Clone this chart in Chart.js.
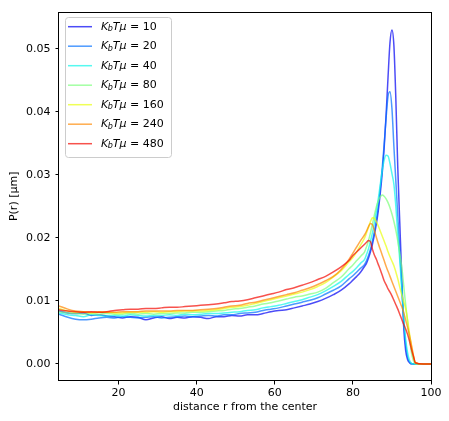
<!DOCTYPE html>
<html>
<head>
<meta charset="utf-8">
<script src="https://cdn.jsdelivr.net/npm/chart.js@4.4.0/dist/chart.umd.min.js"></script>
<style>
html, body { margin: 0; padding: 0; background: #fff; }
</style>
</head>
<body>
<canvas id="myChart" width="449" height="421"></canvas>
<script>
// distance from the center (shared by every curve)
const distance = [4.75,7,9,11,13,15,17,19,21,23,25,27,29,31,33,35,37,39,41,43,45,47,49,51,53,55,57,59,61,63,65,67,69,71,73,75,77,79,
	80,81,82,
	83,83.5,84,84.5,85,85.5,86,86.5,87,87.5,88,88.5,89,89.5,90,90.5,91,91.5,92,92.5,93,93.5,94,94.5,95,95.5,96,
	98,100];

const kbtValues = [10, 20, 40, 80, 160, 240, 480];

const p10 = [.0084,.0081,.0080,.0081,.0077,.0078,.0076,.0075,.0073,.0075,.0074,.0070,.0073,.0075,.0072,.0074,.0073,.0075,.0074,.0072,.0075,.0075,.0077,.0076,.0078,.0078,.0080,.0083,.0085,.0086,.0089,.0092,.0095,.0099,.0104,.0110,.0117,.0127,
	.0133,.0139,.0146,
	.0155,.0160,.0168,.0178,.0190,.0205,.0222,.0243,.0270,.0302,.0342,.0395,.0455,.0510,.0530,.0505,.0420,.0310,.0225,.0140,.0060,.0022,.0007,.0002,0,0,0,
	0,0];
const p20 = [.0079,.0074,.0071,.0070,.0071,.0073,.0074,.0073,.0075,.0074,.0073,.0074,.0075,.0073,.0074,.0075,.0076,.0075,.0076,.0077,.0076,.0078,.0078,.0080,.0081,.0082,.0085,.0087,.0089,.0092,.0095,.0098,.0101,.0105,.0111,.0117,.0124,.0135,
	.0140,.0146,.0152,
	.0158,.0164,.0172,.0182,.0195,.0210,.0228,.0250,.0278,.0310,.0348,.0390,.0425,.0432,.0405,.0345,.0290,.0235,.0180,.0125,.0072,.0032,.0011,.0003,.0001,0,0,
	0,0];
const p40 = [.0081,.0078,.0077,.0075,.0078,.0077,.0076,.0077,.0076,.0078,.0077,.0076,.0077,.0077,.0078,.0077,.0079,.0078,.0079,.0080,.0080,.0081,.0082,.0083,.0085,.0086,.0089,.0091,.0093,.0096,.0099,.0102,.0106,.0110,.0116,.0123,.0131,.0142,
	.0147,.0153,.0160,
	.0166,.0174,.0183,.0195,.0208,.0224,.0242,.0262,.0284,.0306,.0323,.0331,.0330,.0318,.0302,.0285,.0250,.0205,.0165,.0120,.0075,.0040,.0018,.0006,.0001,0,0,
	0,0];
const p80 = [.0083,.0081,.0080,.0079,.0080,.0079,.0080,.0079,.0079,.0080,.0079,.0080,.0079,.0080,.0080,.0081,.0081,.0082,.0082,.0083,.0084,.0085,.0087,.0088,.0090,.0092,.0095,.0097,.0100,.0103,.0106,.0108,.0111,.0114,.0120,.0129,.0138,.0151,
	.0157,.0164,.0171,
	.0178,.0186,.0196,.0208,.0222,.0236,.0249,.0259,.0265,.0268,.0266,.0262,.0256,.0248,.0238,.0226,.0212,.0195,.0175,.0155,.0125,.0095,.0068,.0040,.0018,.0005,0,
	0,0];
const p160 = [.0088,.0084,.0082,.0083,.0081,.0082,.0082,.0081,.0081,.0082,.0082,.0082,.0083,.0082,.0083,.0083,.0084,.0084,.0084,.0085,.0086,.0088,.0090,.0091,.0093,.0096,.0099,.0102,.0105,.0108,.0111,.0114,.0118,.0123,.0129,.0138,.0148,.0162,
	.0169,.0178,.0189,
	.0200,.0208,.0217,.0226,.0232,.0231,.0226,.0219,.0211,.0203,.0195,.0187,.0178,.0170,.0163,.0156,.0146,.0135,.0122,.0110,.0099,.0088,.0070,.0048,.0028,.0012,.0002,
	0,0];
const p240 = [.0092,.0087,.0084,.0083,.0082,.0083,.0082,.0082,.0083,.0083,.0083,.0084,.0084,.0084,.0084,.0085,.0085,.0085,.0086,.0087,.0088,.0090,.0092,.0093,.0096,.0098,.0101,.0104,.0107,.0110,.0113,.0117,.0121,.0126,.0132,.0139,.0150,.0166,
	.0176,.0186,.0196,
	.0205,.0211,.0218,.0223,.0221,.0212,.0201,.0191,.0182,.0173,.0164,.0155,.0147,.0139,.0131,.0123,.0115,.0107,.0099,.0091,.0082,.0070,.0058,.0045,.0030,.0014,.0002,
	0,0];
const p480 = [.0086,.0084,.0083,.0082,.0083,.0082,.0083,.0085,.0086,.0087,.0087,.0088,.0088,.0089,.0090,.0090,.0091,.0092,.0093,.0094,.0095,.0097,.0099,.0100,.0102,.0105,.0108,.0111,.0114,.0118,.0121,.0125,.0129,.0134,.0139,.0146,.0154,.0164,
	.0172,.0178,.0184,
	.0190,.0193,.0196,.0194,.0182,.0173,.0166,.0158,.0150,.0141,.0132,.0126,.0119,.0114,.0108,.0101,.0094,.0087,.0079,.0071,.0063,.0056,.0047,.0036,.0023,.0012,.0002,
	0,0];

const curves = [p10, p20, p40, p80, p160, p240, p480];
const lineColors = ['rgba(0,0,243,0.7)', 'rgba(0,110,255,0.7)', 'rgba(14,247,233,0.7)', 'rgba(123,255,123,0.7)',
	'rgba(233,255,14,0.7)', 'rgba(255,135,0,0.7)', 'rgba(243,9,0,0.7)'];

const xTicks = [20, 40, 60, 80, 100];
const yTicks = [0, 0.01, 0.02, 0.03, 0.04, 0.05];

const FONT = 'DejaVu Sans';
const FS = 11;

// matplotlib style box: top/right spines and the legend with K_bTμ
const framePlugin = {
	id: 'frame',
	afterDraw(chart) {
		const ctx = chart.ctx, a = chart.chartArea;
		ctx.save();
		ctx.strokeStyle = '#000';
		ctx.lineWidth = 1;
		ctx.strokeRect(Math.round(a.left) - 0.5, Math.round(a.top) + 0.5, Math.round(a.right - a.left) + 1, Math.round(a.bottom - a.top) - 1);

		// legend
		const lx = 65.5, ly = 17.5, lw = 106, lh = 140;
		ctx.beginPath();
		ctx.roundRect(lx, ly, lw, lh, 3);
		ctx.fillStyle = 'rgba(255,255,255,0.8)';
		ctx.fill();
		ctx.strokeStyle = '#cccccc';
		ctx.stroke();
		chart.data.datasets.forEach((ds, i) => {
			const y = 26.7 + i * 19.5;
			ctx.beginPath();
			ctx.moveTo(68, y);
			ctx.lineTo(92, y);
			ctx.strokeStyle = ds.borderColor;
			ctx.lineWidth = 1.5;
			ctx.stroke();
			ctx.fillStyle = '#000';
			ctx.textBaseline = 'middle';
			let x = 101;
			ctx.font = 'italic ' + FS + 'px "' + FONT + '"';
			ctx.fillText('K', x, y);
			x += ctx.measureText('K').width - 0.5;
			ctx.font = 'italic 8px "' + FONT + '"';
			ctx.fillText('b', x, y + 2.5);
			x += ctx.measureText('b').width;
			ctx.font = 'italic ' + FS + 'px "' + FONT + '"';
			ctx.fillText('Tμ', x, y);
			x += ctx.measureText('Tμ').width;
			ctx.font = FS + 'px "' + FONT + '"';
			ctx.fillText(' = ' + kbtValues[i], x, y);
		});
		ctx.restore();
	}
};

const datasets = curves.map((vals, i) => ({
	label: 'KbTμ = ' + kbtValues[i],
	data: distance.map((d, j) => ({x: d, y: vals[j]})),
	borderColor: lineColors[i],
	borderWidth: 1.5,
	pointRadius: 0,
	fill: false,
	cubicInterpolationMode: 'monotone',
	order: curves.length - i,
}));

const canvas = document.getElementById('myChart').getContext('2d');
let myChart = new Chart(canvas, {
	type: 'line',
	data: {datasets: datasets},
	options: {
		responsive: false,
		animation: false,
		devicePixelRatio: 1,
		layout: {padding: {left: 0, right: 18, top: 11, bottom: 0}},
		plugins: {
			legend: {display: false},
			tooltip: {enabled: false},
		},
		scales: {
			x: {
				type: 'linear',
				min: 4.75,
				max: 100,
				afterBuildTicks: (axis) => { axis.ticks = xTicks.map(v => ({value: v})); },
				afterFit: (axis) => { axis.height = 40; },
				grid: {display: true, drawOnChartArea: false, drawTicks: true, tickLength: 3.5, color: '#000'},
				border: {display: false},
				ticks: {
					color: '#000',
					padding: 2,
					maxRotation: 0,
					font: {family: FONT, size: FS},
					callback: (v) => String(v),
				},
				title: {
					display: true,
					text: 'distance r from the center',
					color: '#000',
					font: {family: FONT, size: FS},
					padding: {top: 0, bottom: 7},
				},
			},
			y: {
				min: -0.0027,
				max: 0.0559,
				afterBuildTicks: (axis) => { axis.ticks = yTicks.map(v => ({value: v})); },
				afterFit: (axis) => { axis.width = 59; },
				grid: {display: true, drawOnChartArea: false, drawTicks: true, tickLength: 3.5, color: '#000'},
				border: {display: false},
				ticks: {
					color: '#000',
					padding: 5,
					font: {family: FONT, size: FS},
					callback: (v) => v.toFixed(2),
				},
				title: {
					display: true,
					text: 'P(r) [μm]',
					color: '#000',
					font: {family: FONT, size: FS},
					padding: {top: 8, bottom: 0},
				},
			},
		},
	},
	plugins: [framePlugin],
});
</script>
</body>
</html>
